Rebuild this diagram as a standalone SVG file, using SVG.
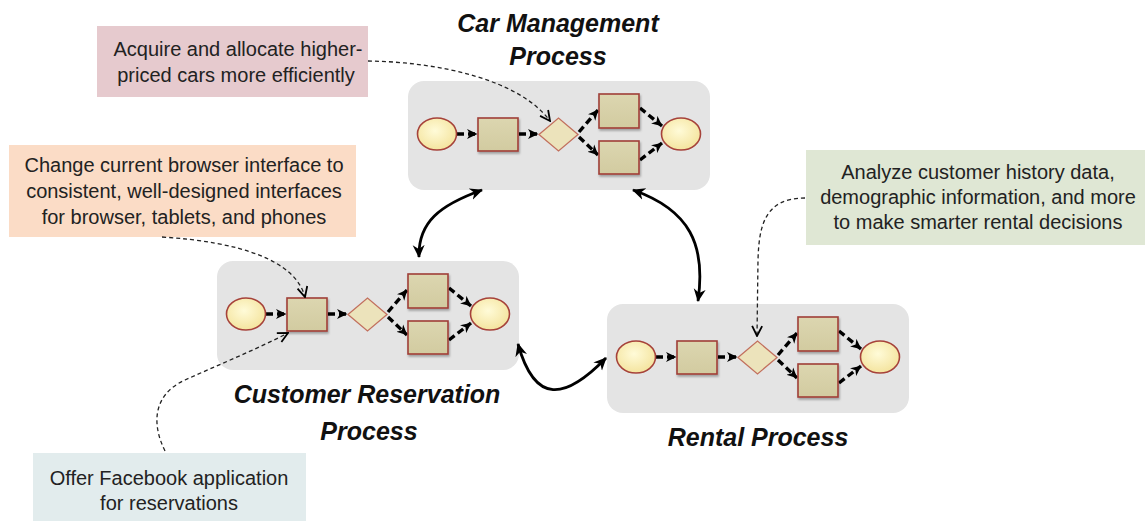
<svg xmlns="http://www.w3.org/2000/svg" width="1145" height="521" viewBox="0 0 1145 521">
<style>
.pbox{fill:#e4e4e4;stroke:none}
.ev{fill:url(#gEv);stroke:#a6423a;stroke-width:1.6}
.act{fill:url(#gAct);stroke:#a03e38;stroke-width:1.6;filter:url(#sh)}
.gw{fill:#ece3bb;stroke:#c2705e;stroke-width:1.3}
.flow{fill:none;stroke:#000;stroke-width:3.4;stroke-dasharray:7 4;marker-end:url(#ahIn)}
.link{fill:none;stroke:#000;stroke-width:2.8;marker-start:url(#ahLink);marker-end:url(#ahLink)}
.note{fill:none;stroke:#222;stroke-width:1.3;stroke-dasharray:4 3;marker-end:url(#ahNote)}
.ctext{font-family:"Liberation Sans",Arial,sans-serif;font-size:20px;fill:#222;text-anchor:middle}
.title{font-family:"Liberation Sans",Arial,sans-serif;font-size:25px;font-weight:bold;font-style:italic;fill:#111;text-anchor:middle}
</style>
<defs>
<radialGradient id="gEv" cx="0.45" cy="0.4" r="0.65">
<stop offset="0" stop-color="#fffbd8"/>
<stop offset="1" stop-color="#f3e29a"/>
</radialGradient>
<linearGradient id="gAct" x1="0" y1="0" x2="0" y2="1">
<stop offset="0" stop-color="#dcd6b0"/>
<stop offset="1" stop-color="#d2cba0"/>
</linearGradient>
<filter id="sh" x="-20%" y="-20%" width="150%" height="150%">
<feDropShadow dx="1" dy="2" stdDeviation="1.2" flood-color="#000" flood-opacity="0.3"/>
</filter>
<marker id="ahIn" markerUnits="userSpaceOnUse" markerWidth="11" markerHeight="11" viewBox="0 0 11 11" refX="10" refY="5.5" orient="auto">
<path d="M0,0.5 L10.5,5.5 L0,10.5 L3,5.5 z" fill="#000"/>
</marker>
<marker id="ahLink" markerUnits="userSpaceOnUse" markerWidth="14" markerHeight="14" viewBox="0 0 14 14" refX="12" refY="7" orient="auto-start-reverse">
<path d="M0,1 L13,7 L0,13 L4,7 z" fill="#000"/>
</marker>
<marker id="ahNote" markerUnits="userSpaceOnUse" markerWidth="12" markerHeight="12" viewBox="0 0 12 12" refX="11" refY="6" orient="auto">
<path d="M1,1 L11,6 L1,11" fill="none" stroke="#000" stroke-width="1.8"/>
</marker>
<g id="proc">
<rect class="pbox" x="0" y="0" width="302" height="109" rx="16"/>
<path class="flow" d="M49 53 L69 53"/>
<path class="flow" d="M111 53 L130 53"/>
<path class="flow" d="M171 51 L190 29"/>
<path class="flow" d="M171 56 L190 74"/>
<path class="flow" d="M232 27 L254 45"/>
<path class="flow" d="M232 79 L254 62"/>
<ellipse class="ev" cx="29" cy="53" rx="19.5" ry="16"/>
<rect class="act" x="70" y="37" width="40" height="33"/>
<polygon class="gw" points="131,53.5 150.5,37 170,53.5 150.5,70"/>
<rect class="act" x="191" y="13" width="40" height="34"/>
<rect class="act" x="191" y="60" width="40" height="33"/>
<ellipse class="ev" cx="273" cy="53" rx="19.5" ry="16"/>
</g>
</defs>

<g id="car-management-process">
<use href="#proc" x="408" y="81"/>
<text class="title" x="558" y="32">Car Management</text>
<text class="title" x="558" y="65">Process</text>
</g>

<g id="customer-reservation-process">
<use href="#proc" x="217" y="261"/>
<text class="title" x="367" y="403">Customer Reservation</text>
<text class="title" x="369" y="440">Process</text>
</g>

<g id="rental-process">
<use href="#proc" x="607" y="304"/>
<text class="title" x="758" y="446">Rental Process</text>
</g>

<g id="note-car">
<rect x="97" y="26" width="271" height="71" fill="#e6cace"/>
<text class="ctext" x="238" y="56">Acquire and allocate higher-</text>
<text class="ctext" x="236" y="82">priced cars more efficiently</text>
</g>

<g id="note-interface">
<rect x="9" y="145" width="347" height="92" fill="#fbdcc6"/>
<text class="ctext" x="184" y="172">Change current browser interface to</text>
<text class="ctext" x="184" y="198">consistent, well-designed interfaces</text>
<text class="ctext" x="184" y="224">for browser, tablets, and phones</text>
</g>

<g id="note-analyze">
<rect x="806" y="150" width="339" height="95" fill="#dfe7d4"/>
<text class="ctext" x="978" y="179">Analyze customer history data,</text>
<text class="ctext" x="978" y="204">demographic information, and more</text>
<text class="ctext" x="978" y="229">to make smarter rental decisions</text>
</g>

<g id="note-facebook">
<rect x="33" y="453" width="273" height="68" fill="#e2eced"/>
<text class="ctext" x="169" y="485">Offer Facebook application</text>
<text class="ctext" x="169" y="510">for reservations</text>
</g>

<g id="connectors">
<path class="link" d="M482 190 C440 205 418 222 419 257"/>
<path class="link" d="M633 190 C690 210 706 245 698 301"/>
<path class="link" d="M518 344 C535 405 565 400 606 358"/>
<path class="note" d="M368 61 C440 62 520 80 550 121"/>
<path class="note" d="M162 237 C240 242 295 260 305 297"/>
<path class="note" d="M805 198 C765 198 759 225 758 260 L757 336"/>
<path class="note" d="M165 451 C152 425 152 395 185 380 S255 350 288 333"/>
</g>
</svg>
